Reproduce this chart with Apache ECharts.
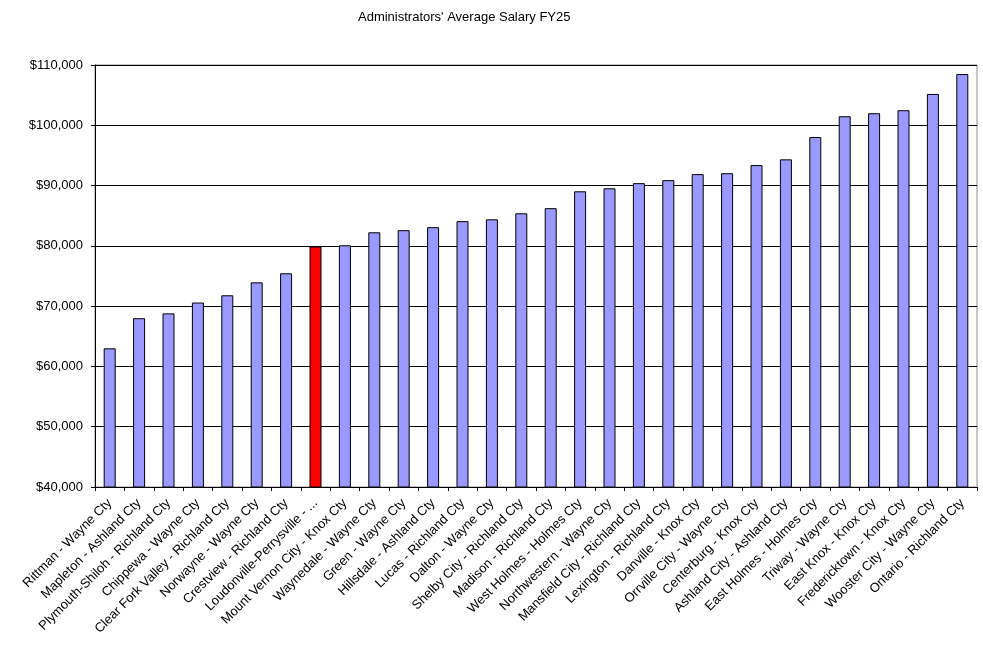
<!DOCTYPE html>
<html>
<head>
<meta charset="utf-8">
<title>Administrators' Average Salary FY25</title>
<script src="https://cdn.jsdelivr.net/npm/echarts@6/dist/echarts.min.js"></script>
<style>
  html, body { margin: 0; padding: 0; background: #fff; }
  #container { width: 983px; height: 652px; }
</style>
</head>
<body>
<div id="container"></div>
<script>
// districts, sorted by salary
var districts = [
  'Rittman - Wayne Cty', 'Mapleton - Ashland Cty', 'Plymouth-Shiloh - Richland Cty',
  'Chippewa - Wayne Cty', 'Clear Fork Valley - Richland Cty', 'Norwayne - Wayne Cty',
  'Crestview - Richland Cty', 'Loudonville-Perrysville - ...', 'Mount Vernon City - Knox Cty',
  'Waynedale - Wayne Cty', 'Green - Wayne Cty', 'Hillsdale - Ashland Cty',
  'Lucas - Richland Cty', 'Dalton - Wayne Cty', 'Shelby City - Richland Cty',
  'Madison - Richland Cty', 'West Holmes - Holmes Cty', 'Northwestern - Wayne Cty',
  'Mansfield City - Richland Cty', 'Lexington - Richland Cty', 'Danville - Knox Cty',
  'Orrville City - Wayne Cty', 'Centerburg - Knox Cty', 'Ashland City - Ashland Cty',
  'East Holmes - Holmes Cty', 'Triway - Wayne Cty', 'East Knox - Knox Cty',
  'Fredericktown - Knox Cty', 'Wooster City - Wayne Cty', 'Ontario - Richland Cty'
];
var salaries = [
  63000, 68000, 68800, 70600, 71800, 73950, 75450, 79900, 80100, 82250,
  82600, 83100, 84100, 84400, 85400, 86250, 89050, 89550, 90400, 90900,
  91900, 92050, 93400, 94350, 98050, 101500, 102000, 102500, 105200, 108500
];
var highlighted = 'Loudonville-Perrysville - ...';

var myChart = echarts.init(document.getElementById('container'));

var barData = [];
for (var i = 0; i < salaries.length; i++) {
  var item = { value: salaries[i] };
  if (districts[i] === highlighted) {
    item.itemStyle = { color: '#ff0000' };
  }
  barData.push(item);
}

function money(v) {
  return '$' + String(v).replace(/\B(?=(\d{3})+(?!\d))/g, ',');
}

var option = {
  backgroundColor: '#ffffff',
  animation: false,
  textStyle: { fontFamily: 'Liberation Sans, Arial, sans-serif' },
  title: {
    text: "Administrators' Average Salary FY25",
    left: 353,
    top: 6,
    textStyle: { fontSize: 13, fontWeight: 'normal', color: '#000' }
  },
  grid: {
    left: 95, right: 6, top: 65, bottom: 165,
    show: true, borderColor: '#8c8c8c', borderWidth: 1, backgroundColor: '#fff'
  },
  xAxis: {
    type: 'category',
    data: districts,
    axisLine: { lineStyle: { color: '#000', width: 1 } },
    axisTick: { show: true, alignWithLabel: false, length: 4, lineStyle: { color: '#000' } },
    axisLabel: {
      interval: 0, rotate: 45, color: '#000', fontSize: 13, margin: 14,
      fontFamily: 'Liberation Sans, Arial, sans-serif'
    }
  },
  yAxis: {
    type: 'value',
    min: 40000, max: 110000, interval: 10000,
    axisLine: { show: true, lineStyle: { color: '#000', width: 1 } },
    axisTick: { show: true, length: 4, lineStyle: { color: '#000' } },
    axisLabel: {
      color: '#000', fontSize: 13, margin: 12,
      fontFamily: 'Liberation Sans, Arial, sans-serif',
      formatter: money
    },
    splitLine: { show: true, lineStyle: { color: '#000', width: 1 } }
  },
  series: [
    {
      name: 'Salary',
      type: 'bar',
      data: barData,
      barWidth: 12,
      itemStyle: { color: '#9999ff', borderColor: '#000', borderWidth: 1 }
    }
  ]
};
myChart.setOption(option);
</script>
</body>
</html>
